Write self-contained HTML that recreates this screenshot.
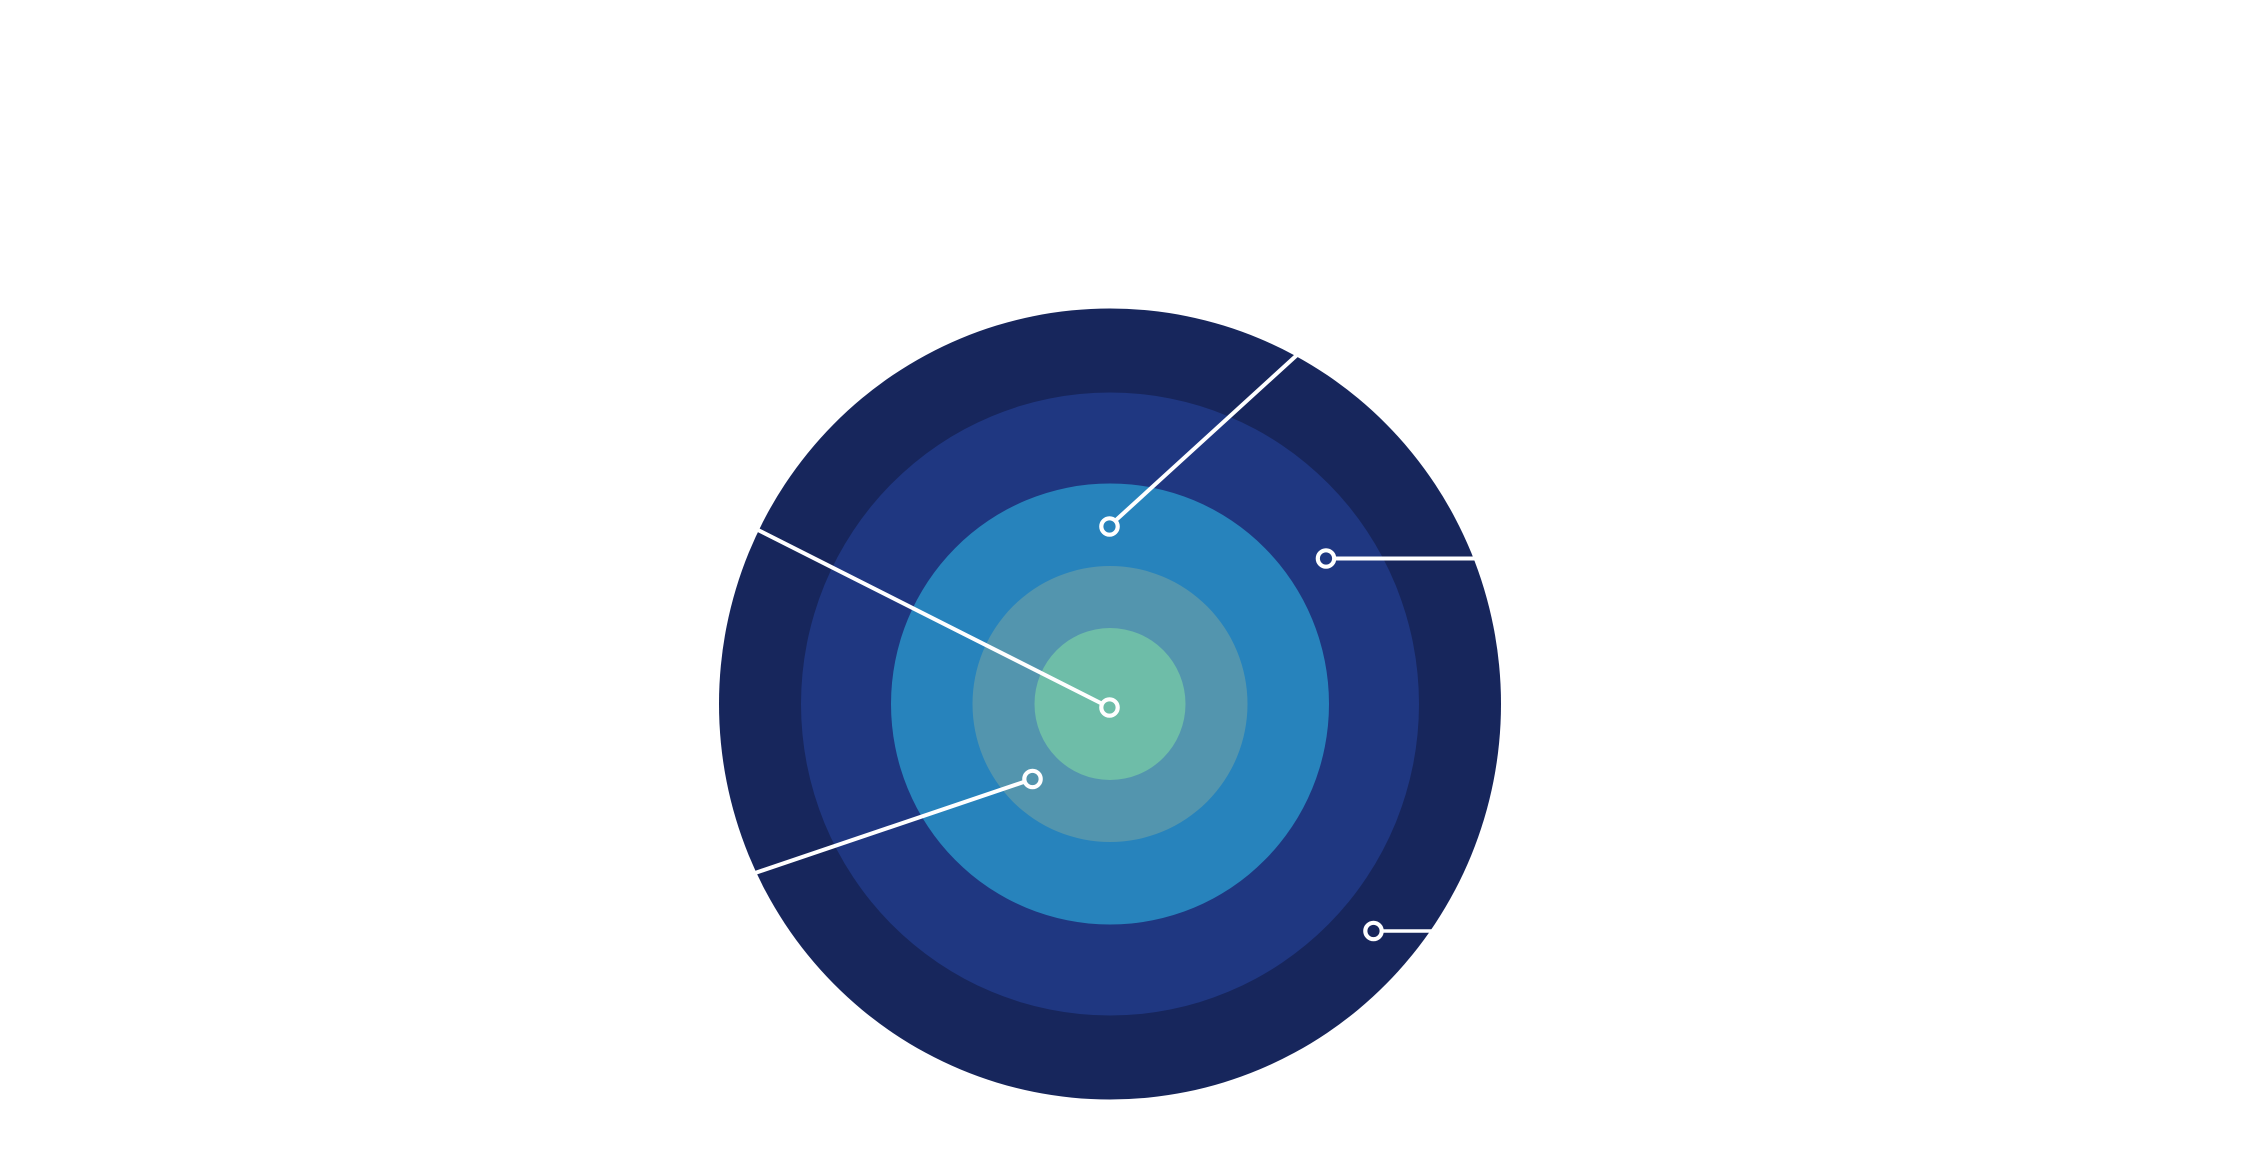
<!DOCTYPE html>
<html>
<head>
<meta charset="utf-8">
<style>
html,body{margin:0;padding:0;background:#fff;width:2245px;height:1154px;overflow:hidden}
svg{display:block}
</style>
</head>
<body>
<svg width="2245" height="1154" viewBox="0 0 2245 1154" xmlns="http://www.w3.org/2000/svg">
<rect width="2245" height="1154" fill="#fff"/>
<ellipse cx="1110" cy="704" rx="391" ry="395.5" fill="#17265c"/>
<ellipse cx="1110" cy="704" rx="309" ry="311.5" fill="#1f3781"/>
<ellipse cx="1110" cy="704" rx="219" ry="220.5" fill="#2783bc"/>
<ellipse cx="1110" cy="704" rx="137.5" ry="138" fill="#5395ae"/>
<ellipse cx="1110" cy="704" rx="75.5" ry="76" fill="#6ebda8"/>
<g stroke="#fff" stroke-width="4" fill="none">
<line x1="1109.5" y1="526" x2="1297" y2="355"/>
<line x1="1326" y1="558.5" x2="1476" y2="558.5"/>
<line x1="1373.5" y1="931" x2="1434" y2="931" stroke-width="3.5"/>
<line x1="1109.5" y1="707.5" x2="757" y2="529.5"/>
<line x1="1032.5" y1="779" x2="755" y2="873"/>
</g>
<g stroke="#fff" stroke-width="4.2">
<circle cx="1109.5" cy="526.5" r="8.2" fill="#2783bc"/>
<circle cx="1326" cy="558.5" r="8.2" fill="#1f3781"/>
<circle cx="1373.5" cy="931" r="8.2" fill="#17265c"/>
<circle cx="1109.5" cy="707.5" r="8.2" fill="#6ebda8"/>
<circle cx="1032.5" cy="779" r="8.2" fill="#5395ae"/>
</g>
</svg>
</body>
</html>
